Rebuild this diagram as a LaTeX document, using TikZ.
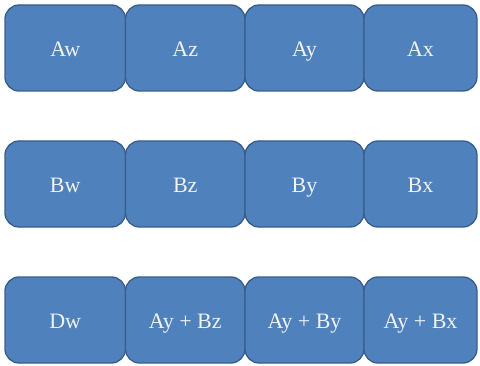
\documentclass[tikz,border=0pt]{standalone}
\usepackage{fontspec}
\setmainfont{Liberation Serif}
\definecolor{boxfill}{HTML}{4F81BD}
\definecolor{boxedge}{HTML}{385D8A}
\definecolor{boxtext}{HTML}{F2F2F2}
\begin{document}
\begin{tikzpicture}[x=1pt,y=1pt,
  cell/.style={draw=boxedge, line width=1.3pt, fill=boxfill, rounded corners=14pt,
    minimum height=86pt, inner sep=0pt, text=boxtext,
    text height=18pt, text depth=1pt,
    font=\fontsize{22}{26}\selectfont},
  w1/.style={minimum width=120.5pt},
  w2/.style={minimum width=119.5pt},
  w3/.style={minimum width=119pt},
  w4/.style={minimum width=113pt}]
\useasboundingbox (0,0) rectangle (480,365);
% row 1
\node[cell,w1] (aw) at (65.25,317) {Aw};
\node[cell,w2] (az) at (185.25,317) {Az};
\node[cell,w3] (ay) at (304.5,317) {Ay};
\node[cell,w4] (ax) at (420.5,317) {Ax};
% row 2
\node[cell,w1] (bw) at (65.25,181) {Bw};
\node[cell,w2] (bz) at (185.25,181) {Bz};
\node[cell,w3] (by) at (304.5,181) {By};
\node[cell,w4] (bx) at (420.5,181) {Bx};
% row 3
\node[cell,w1] (dw) at (65.25,45) {Dw};
\node[cell,w2] (aybz) at (185.25,45) {Ay + Bz};
\node[cell,w3] (ayby) at (304.5,45) {Ay + By};
\node[cell,w4] (aybx) at (420.5,45) {Ay + Bx};
\end{tikzpicture}
\end{document}
